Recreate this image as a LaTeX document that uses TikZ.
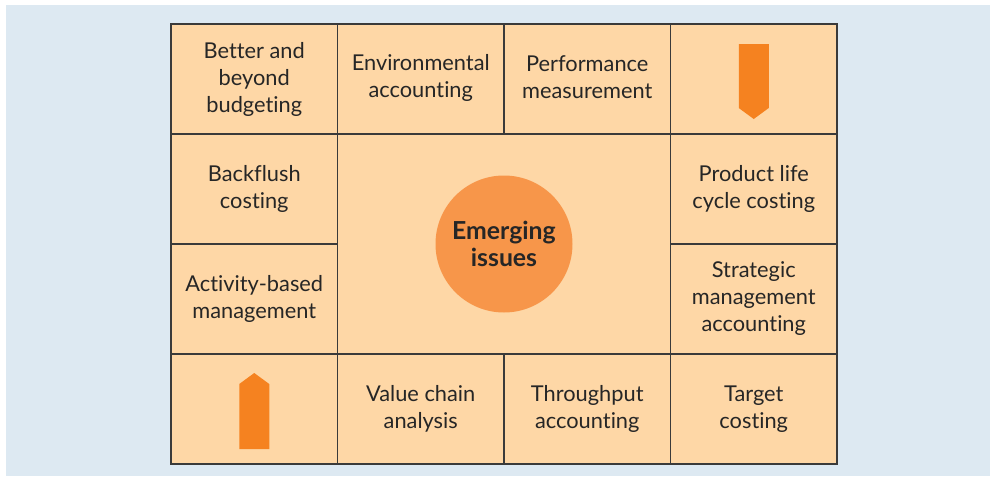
\documentclass[tikz,border=0pt]{standalone}
\usepackage{fontspec}
\setmainfont{Lato}[RawFeature=-liga]
\definecolor{bgblue}{HTML}{DDE9F2}
\definecolor{cellfill}{HTML}{FED7A6}
\definecolor{linegray}{HTML}{3A3A3A}
\definecolor{hubfill}{HTML}{F7964A}
\definecolor{arrowfill}{HTML}{F58220}
\tikzset{
  celltext/.style={align=center, font=\fontsize{10.9}{13.5}\selectfont, text=black!85},
  cell/.style={celltext, draw=linegray, fill=cellfill, line width=0.9pt, inner sep=0pt,
    minimum width=83.25pt, minimum height=55pt},
  hub/.style={circle, fill=hubfill, minimum size=68.5pt, inner sep=0pt, align=center,
    font=\fontsize{12.4}{13.2}\selectfont\bfseries, text=black!85}
}
\begin{document}
\begin{tikzpicture}[x=0.5pt,y=-0.5pt]
\useasboundingbox (0,0) rectangle (993,477);
\fill[bgblue] (6,5) rectangle (990,476);
% top row
\node[cell] (c00) at (254.25,79) {Better and\\beyond\\budgeting};
\node[cell] (c01) at (420.75,79) {};
\node[cell] (c02) at (587.25,79) {};
\node[celltext] (t01) at (420.75,77.5) {Environmental\\accounting};
\node[celltext] (t02) at (587.25,77.5) {Performance\\measurement};
\node[cell] (c03) at (753.75,79) {};
% middle rows
\node[cell] (c10) at (254.25,189) {Backflush\\costing};
\node[cell] (c20) at (254.25,299) {Activity-based\\management};
\node[cell, minimum width=166.5pt, minimum height=110pt] (mid) at (504,244) {};
\node[cell] (c13) at (753.75,189) {Product life\\cycle costing};
\node[cell] (c23) at (753.75,299) {Strategic\\management\\accounting};
% bottom row
\node[cell] (c30) at (254.25,409) {};
\node[cell] (c31) at (420.75,409) {Value chain\\analysis};
\node[cell] (c32) at (587.25,409) {Throughput\\accounting};
\node[cell] (c33) at (753.75,409) {Target\\costing};
% centre
\node[hub] (hub) at (mid.center) {Emerging\\issues};
% arrows in the corners
\fill[arrowfill, shift={(c03.center)}] (-15,-35) -- (15,-35) -- (15,29) -- (0,40) -- (-15,29) -- cycle;
\fill[arrowfill, shift={(c30.center)}] (-15,40) -- (15,40) -- (15,-25) -- (0,-36) -- (-15,-25) -- cycle;
\end{tikzpicture}
\end{document}
